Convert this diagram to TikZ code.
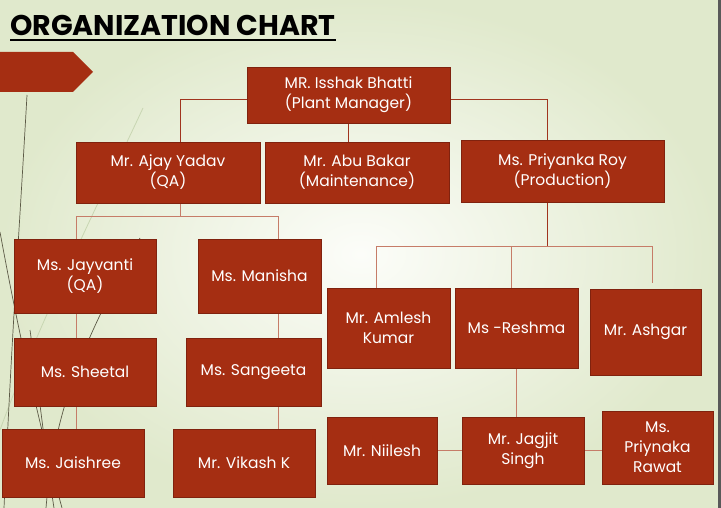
\documentclass[tikz,border=0pt]{standalone}
\usepackage{fontspec}
\setmainfont{Poppins}
\usetikzlibrary{positioning,calc}
\definecolor{boxred}{RGB}{165,46,18}
\definecolor{boxedge}{RGB}{128,34,14}
\definecolor{linkred}{RGB}{198,124,104}
\definecolor{linkdark}{RGB}{160,52,30}
\definecolor{bgin}{RGB}{252,253,249}
\definecolor{bgout}{RGB}{224,233,204}
\definecolor{wisp}{RGB}{92,90,70}
\definecolor{wisplt}{RGB}{200,214,178}
\pgfdeclarelayer{bg}
\pgfsetlayers{bg,main}
\tikzset{
  person/.style={draw=boxedge,fill=boxred,text=white,line width=0.8pt,
    inner sep=0pt,align=center,font=\fontsize{15.5}{20}\selectfont},
  link/.style={draw=linkred,line width=0.9pt},
  linkd/.style={draw=linkdark,line width=0.9pt},
  wispline/.style={draw=wisp,line width=0.7pt},
  wispfaint/.style={draw=wisplt,line width=0.8pt},
  charttitle/.style={font=\fontsize{28.5}{29}\selectfont\bfseries,inner sep=0pt},
  uline/.style={line width=2.2pt},
}

\begin{document}
\begin{tikzpicture}[x=1pt,y=-1pt]
  \useasboundingbox (0,0) rectangle (721,508);
  \node[person,minimum width=203,minimum height=56] (boss) at (348.5,95) {MR. Isshak Bhatti\\(Plant Manager)};
  \node[person,minimum width=184,minimum height=61] (ajay) at (168,172.5) {Mr. Ajay Yadav\\(QA)};
  \node[person,minimum width=184,minimum height=61] (abu) at (357,172.5) {Mr. Abu Bakar\\(Maintenance)};
  \node[person,minimum width=203,minimum height=62] (priy) at (562.5,171) {Ms. Priyanka Roy\\(Production)};
  \node[person,minimum width=142,minimum height=74] (jayv) at (85,276) {Ms. Jayvanti\\(QA)};
  \node[person,minimum width=123,minimum height=74] (manisha) at (259.5,276) {Ms. Manisha};
  \node[person,minimum width=142,minimum height=68] (sheetal) at (85,372) {Ms. Sheetal};
  \node[person,minimum width=135,minimum height=68] (sangeeta) at (253.5,372) {Ms. Sangeeta};
  \node[person,minimum width=142,minimum height=68] (jaishree) at (73,463) {Ms. Jaishree};
  \node[person,minimum width=142,minimum height=68] (vikash) at (244,463) {Mr. Vikash K};
  \node[person,minimum width=123,minimum height=80] (amlesh) at (388.5,328) {Mr. Amlesh\\Kumar};
  \node[person,minimum width=123,minimum height=80] (reshma) at (516.5,328) {Ms -Reshma};
  \node[person,minimum width=111,minimum height=86] (ashgar) at (645.5,332) {Mr. Ashgar};
  \node[person,minimum width=110,minimum height=67] (niilesh) at (382,450.5) {Mr. Niilesh};
  \node[person,minimum width=122,minimum height=67] (jagjit) at (523,450.5) {Mr. Jagjit\\Singh};
  \node[person,minimum width=111,minimum height=73] (priynaka) at (657.5,447.5) {Ms.\\Priynaka\\Rawat};
  \node[charttitle,anchor=base west] (title) at (10,36) {ORGANIZATION CHART};
  \coordinate (j1) at (180,99);
  \coordinate (j2) at (547,99);
  \coordinate (j3) at (180,216);
  \coordinate (j4) at (76,216);
  \coordinate (j5) at (278,216);
  \coordinate (j6) at (547,246);
  \coordinate (j7) at (376,246);
  \coordinate (j8) at (652,246);
  \coordinate (j9) at (652,283);
  \coordinate (j10) at (511,246);
  \begin{pgfonlayer}{bg}
    \shade[inner color=bgin,outer color=bgout] (0,0) rectangle (721,508);
    \fill[black!65] (718,0) rectangle (721,508);
    \draw[wispfaint] (143,108) .. controls (100,200) and (40,320) .. (0,430);
    \draw[wispline] (27,95) .. controls (20,220) and (12,330) .. (4,508);
    \draw[wispline] (0,232) .. controls (18,330) and (38,420) .. (62,508);
    \draw[wispline] (140,238) .. controls (90,330) and (55,400) .. (46,508);
    \draw[wispline] (30,330) .. controls (40,400) and (45,450) .. (54,508);
    \fill[boxred] (0,52) -- (73,52) -- (93,72) -- (73,92) -- (0,92) -- cycle;
    \draw[linkd] (j1 |- ajay.north) -- (j1) -- (j2) -- (j2 |- priy.north);
    \draw[linkd] (boss.south) -- (boss.south |- abu.north);
    \draw[link] (j3 |- ajay.south) -- (j3);
    \draw[link] (j4 |- jayv.north) -- (j4) -- (j5) -- (j5 |- manisha.north);
    \draw[link] (j4 |- jayv.south) -- (j4 |- sheetal.north);
    \draw[link] (j4 |- sheetal.south) -- (j4 |- jaishree.north);
    \draw[link] (j5 |- manisha.south) -- (j5 |- sangeeta.north);
    \draw[link] (j5 |- sangeeta.south) -- (j5 |- vikash.north);
    \draw[linkd] (j6 |- priy.south) -- (j6);
    \draw[link] (j7 |- amlesh.north) -- (j7) -- (j8) -- (j9);
    \draw[link] (j10) -- (j10 |- reshma.north);
    \draw[link] (reshma.south) -- (reshma.south |- jagjit.north);
    \draw[link] (niilesh.east) -- (niilesh.east -| jagjit.west);
    \draw[link] (jagjit.east) -- (jagjit.east -| priynaka.west);
  \end{pgfonlayer}
  \draw[uline] ([yshift=-4pt]title.base west) -- ([yshift=-4pt]title.base east);
\end{tikzpicture}
\end{document}
